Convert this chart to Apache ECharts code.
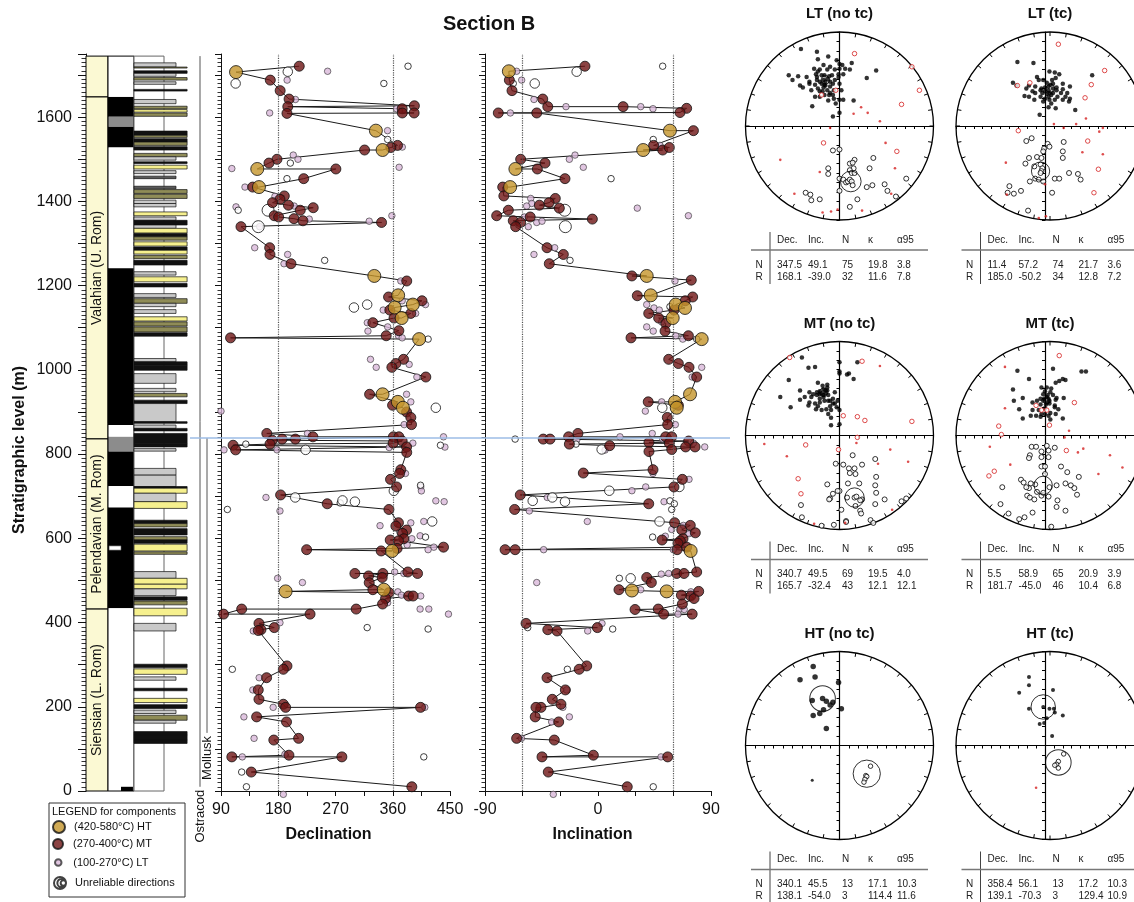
<!DOCTYPE html>
<html><head><meta charset="utf-8">
<script src="https://cdn.jsdelivr.net/npm/echarts@6/dist/echarts.min.js"></script>
<style>html,body{margin:0;padding:0;background:#fff}#c{width:1134px;height:902px}</style>
</head><body><div id="c"></div><script>
const FONT = "'Liberation Sans', Arial, Helvetica, sans-serif";
const LEVEL_MAX = 1750;
const COLUMN_TOP = 1745;
const BOUNDARY_LEVEL = 838;
const DEC_REF = [180, 360];
const INC_REF = [-60, 60];

// ---- Stratigraphy ----
const STAGES = [[1648,1745,''],[836,1648,'Valahian (U. Rom)'],[432,836,'Pelendavian (M. Rom)'],[0,432,'Siensian (L. Rom)']];
const POLARITY = [[1648,1745,'R'],[1601,1648,'N'],[1577,1601,'U'],[1528,1577,'N'],[1241,1528,'R'],[869,1241,'N'],[841,869,'R'],[806,841,'U'],[724,806,'N'],[673,724,'R'],[434,673,'N'],[0,434,'R']];
const POLARITY_EVENTS = [[572,582,'R'],[0,10,'N']];
const LITHOLOGY = [
[1719,1729,'g'],[1717,1719,'o'],[1704,1710,'k'],[1697,1704,'g'],[1688,1694,'o'],[1678,1684,'g'],[1662,1666,'k'],
[1632,1642,'g'],[1620,1626,'o'],[1612,1618,'y'],[1602,1610,'o'],
[1557,1567,'k'],[1552,1557,'o'],[1541,1549,'k'],[1533,1541,'o'],[1522,1530,'k'],[1506,1514,'o'],[1498,1506,'g'],[1490,1494,'k'],[1477,1486,'y'],[1466,1473,'g'],[1454,1460,'d'],
[1430,1436,'d'],[1419,1428,'o'],[1407,1417,'o'],[1395,1403,'g'],[1387,1395,'g'],[1366,1375,'y'],[1355,1363,'g'],[1344,1355,'k'],[1336,1344,'g'],[1325,1336,'y'],[1316,1324,'k'],[1308,1316,'o'],[1294,1304,'y'],[1284,1292,'k'],[1275,1284,'y'],[1264,1272,'o'],[1249,1260,'k'],
[1225,1233,'g'],[1209,1221,'y'],[1197,1205,'k'],[1172,1181,'g'],[1158,1169,'o'],[1150,1158,'g'],[1134,1143,'g'],[1116,1126,'y'],[1104,1114,'o'],[1090,1102,'o'],[1080,1088,'k'],
[1019,1027,'g'],[1011,1019,'k'],[999,1011,'k'],[968,991,'g'],[948,956,'g'],[936,944,'o'],[920,928,'k'],[877,920,'g'],[873,877,'k'],[861,869,'g'],[855,861,'k'],
[825,849,'k'],[817,825,'k'],[807,813,'g'],
[750,766,'g'],[723,750,'g'],[719,723,'k'],[707,719,'y'],[687,707,'g'],[671,687,'y'],
[635,643,'k'],[627,635,'o'],[608,623,'k'],[596,604,'o'],[588,596,'k'],[570,586,'y'],[562,568,'o'],
[505,521,'g'],[491,505,'y'],[480,491,'y'],[464,480,'g'],[453,461,'k'],[442,451,'o'],[416,434,'y'],[380,398,'g'],
[293,301,'k'],[277,290,'y'],[263,271,'g'],[238,244,'k'],[210,220,'y'],[196,205,'k'],[184,192,'g'],[168,180,'o'],[161,168,'g'],[133,141,'k'],[121,133,'k'],[113,121,'k']];
const FOSSILS = [['Ostracod',10,1745],['Mollusk',138,838]];

// ---- Declination [deg, level m] ----
const DEC_HT = [[113.6,1707],[333.5,1568],[344,1522],[147,1477],[149.7,1434],[331,1223],[368.5,1177],[391.6,1155],[363,1148],[374,1123],[401.5,1073],[344,942],[368,924],[376,910],[359,570],[191.6,474],[346,478]];
const DEC_MT = [
[213,1721],[167.5,1688],[183,1663],[197,1643],[195,1625],[374.8,1620],[394,1627],[375,1610],[393.6,1610],[193.7,1609],
[367.5,1533],[357,1528],[315.7,1522],[178,1500],[165.4,1491],[270.6,1477],[220,1454],[139.8,1434],[189.5,1413],[182.7,1405],
[171,1397],[196,1391],[235,1385],[214.6,1379],[173.7,1366],[180.6,1363],[204.7,1359],[218.8,1354],[342.4,1350],[121.4,1340],
[166.5,1290],[167,1274],[200,1252],[382,1211],[353.4,1173],[406,1164],[355.4,1142],[388.4,1134],[362,1123],[328.7,1112],
[369.6,1093],[105,1076],[349.7,1081],[377,1025],[364.9,1015],[358.6,1006],[412,983],[323.6,942],[359.7,916],[381.7,900],
[388.4,887],[389.5,870],[162,849],[234.5,841],[170.6,833],[186,835.6],[207,835.6],[167,823.7],[361,841],[369.6,841],
[374.8,831],[360.6,826],[381.7,817],[382,804],[109,821],[113,810],[372.7,763],[370.7,754],[356.5,740],[366,722],
[183.7,703],[257,682],[354,668.5],[369,637],[364.9,629],[381.7,619.6],[375.4,611.7],[377.4,599],[356,596],[369,594],
[439.8,579],[224.6,573],[341.8,570],[366.9,576],[383.7,520],[399,516.5],[300.5,516.5],[322,510.7],[344.5,516.5],[343.4,507],
[323,494.6],[328.7,478],[354,471],[348.7,457],[344,444],[385,463],[392,463],[302.5,432],[122.5,432],[94,420],
[230,420],[149.7,398],[173.7,388],[152.8,383],[148.6,381],[193.7,297],[188,289],[161.7,269],[148.6,240],[149.7,217.7],
[188,206],[191.6,198.6],[403.7,198.6],[146,176],[193,164],[212,125],[173,121],[196.8,85],[107,81],[280,81],
[137.6,45],[390,10]];
const DEC_LT = [
[194,1688],[257.6,1709],[207,1642],[166.5,1610],[366,1620],[351.8,1568],[375,1529],[203.6,1510],[211,1500],[107,1478],
[370,1481],[127.7,1434],[174.8,1412],[113.6,1387],[205,1389],[228.7,1358],[323,1353],[358.6,1366],[150.8,1340],[143,1290],
[194.8,1274],[189,1252],[372.7,1211],[374.8,1164],[411.5,1155],[345,1142],[396,1134],[320,1112],[352,1102],[321,1092],
[369,1081],[374.8,1076],[325,1025],[385.8,1013],[334,1006],[397.9,983],[381.7,942],[388.4,924],[90,902],[378,870],
[226,849],[439.8,841],[391.6,826],[442,816.6],[94.7,810],[178,810],[354.4,815.6],[380,754],[404,722],[405,712.6],
[160.7,697],[182.7,665],[427.7,689],[440.8,687],[340,630],[388.4,636.7],[408.8,640],[371,615],[390,599],[403,606],
[382.6,584.4],[424.6,579],[415.6,573],[377.4,516.5],[363,520],[179,505],[218,495],[368,473],[373.8,465],[404,463],
[352,447],[403,432],[416.7,432],[447.6,420],[182.7,399.6],[140.7,380],[150,269],[140,240],[172,198.6],[410.4,198.6],
[126,176],[142,125],[190.5,87],[123.5,81],[188,-8]];
const DEC_UNREL_LT = [[384,1721],[346,1680],[352,1547],[199,1491],[193.7,1454],[117,1379],[253,1260],[415.6,1073],[435,821],[129,823.7],[403.7,726],[277.4,684],[100,668.5],[411.5,603],[319.8,388],[415.6,384.6],[107.8,289],[408.8,81],[122.5,45],[130,10]];
const DEC_UNREL_MT = [[195,1708],[113,1680],[299,1148],[319.8,1155],[427.7,910],[223,810],[361.7,712.6],[206.7,697],[281,690],[300.5,687],[422,640]];
const DEC_UNREL_HT = [[164,1379],[148.6,1340]];

// ---- Inclination [deg, level m] ----
const INC_HT = [[-71,1709],[57.3,1568],[36,1522],[-65.8,1477],[-70,1434],[38.8,1223],[42,1177],[61.9,1155],[69.3,1147],[59.5,1123],[82.6,1073],[73.3,942],[61.3,924],[62.7,910],[73.8,570],[27,476],[54.7,474]];
const INC_MT = [
[-10.4,1721],[-70.6,1688],[-68.5,1663],[-44,1643],[-40,1625],[20,1625],[70.6,1621],[65.3,1611],[-79.4,1610],[-48.8,1610],
[76,1568],[44.3,1533],[51.5,1522],[56.8,1528],[-61.6,1500],[-42.2,1491],[-48.3,1477],[-26.3,1454],[-75.9,1434],[-75,1413],
[-34,1407],[-46.7,1391],[-39,1397],[-30.8,1384],[-71.4,1379],[-80.7,1366],[-54,1363],[-4.5,1358],[-67.5,1354],[-61.6,1350],
[-65.6,1340],[-40.6,1290],[-27.6,1274],[-38.8,1252],[27,1223],[74.3,1213],[31.3,1176],[75.4,1173],[69.5,1164],[60.5,1142],
[40.4,1134],[48.3,1123],[54,1110],[53.4,1092],[26.3,1076],[72,1081],[56.3,1025],[64,1015],[72.5,1006],[78.6,983],
[40,924],[64,916],[55.2,887],[55.5,870],[-16,849],[-43.6,835.6],[-38.2,835.6],[-23.4,841],[-22.8,823.7],[9.3,820],
[40.6,827.7],[40.6,806],[53.9,841],[58.7,841],[56.8,826],[58.7,811],[72.2,831],[69.8,817],[77.3,817],[-11.7,755],
[43.8,763],[67.2,740],[60.5,722],[-61.9,703],[40.4,682],[-66.4,668.5],[61,637],[66.7,620],[73.5,630.7],[77.5,613],
[67.7,599],[51,596],[65.6,594],[63.7,588],[-74,573],[-66,573],[63,573],[70.6,579],[78.6,520],[62.7,516.5],
[68.5,516.5],[38.8,507],[42.5,495],[16.7,478],[73.8,463],[66.4,465],[76.5,457],[80.2,474],[67.2,444],[29.5,431],
[48,432],[52.3,420],[75,420],[-57.3,398],[-0.5,388],[-40,383],[-32.6,380],[-9,297],[-15,289],[-40.6,269],
[-26,240],[-36.4,217.7],[-29.5,206],[-45.4,198.6],[-49.4,198.6],[-50,176],[-31.3,164],[-64.8,125],[-34.8,121],[-44.6,81],
[-3.7,85],[55.5,81],[-39.6,45],[23.3,10]];
const INC_LT = [
[-64.8,1709],[-60.8,1688],[-51,1642],[-25.5,1625],[34,1625],[43.8,1620],[-69.8,1610],[49.4,1533],[-18.3,1510],[-22.8,1500],
[-11.7,1481],[-53.6,1407],[-52.8,1395],[-56.8,1389],[31.3,1384],[72,1366],[-58.7,1363],[-48.8,1350],[-44.6,1353],[-55.5,1340],
[-34.5,1290],[-51,1274],[61.3,1211],[38.8,1155],[44.6,1147],[48.8,1142],[50.7,1114],[38.8,1102],[44,1092],[61.9,1081],
[67.5,1073],[82.6,1006],[75,983],[50.7,924],[37.7,902],[61.6,870],[43.2,849],[17.5,841],[-17,833],[5.6,809.5],
[85,817],[51.5,836],[76,826],[43.8,754],[72.5,740],[38,722],[27,713],[-40.4,697],[52.6,687],[-54.7,665],
[-8.5,640],[58.7,621],[68,630.7],[72.5,611],[53.6,605],[-43.3,573],[60,573],[56.3,516.5],[50.4,515],[-48.8,495],
[34,478],[74,473],[64.8,431],[68.7,431],[63.7,420],[3.2,398],[-8.2,380],[-22.8,176],[-36.9,164],[-61,125],
[50.2,81],[-28,198.6],[-25,240],[-35.6,-8]];
const INC_UNREL_LT = [[51.5,1721],[-67.5,1680],[44,1547],[10.4,1454],[-22.3,1260],[78.6,1073],[57.3,1150],[-66,835.6],[-17.5,823.7],[57.3,689],[60.8,682],[58.7,668.5],[43.5,603],[17,505],[-56,388],[11.7,384.6],[-24.4,289],[44,10]];
const INC_UNREL_MT = [[-17,1708],[-50.4,1680],[51.2,910],[2.9,811],[64.8,722],[9,713],[-36.4,697],[-52,689],[-26.3,687],[49,640],[26,505]];
const INC_UNREL_HT = [[-26.5,1379],[-26,1340]];

// ---- Stereonets: equal-area projection coords (radius = 100) ----
const LT_NOTC_NORMAL = [[-41,82],[-24,79],[-23,71],[-12,74],[-3,70],[0,66],[3,65],[6,61],[0,61],[-17,65],[-10,63],[-5,60],[-8,54],[-13,60],[-21,60],[-27,61],[-23,58],[-25,55],[-16,54],[-11,53],[-1,55],[4,55],[-1,52],[-5,49],[-13,50],[-17,49],[-21,47],[-26,44],[-23,40],[-15,43],[-10,42],[-13,38],[-18,37],[-21,31],[-11,33],[-6,29],[0,28],[4,28],[11,60],[-54,54],[-50,49],[-44,53],[-42,43],[-39,41],[-35,52],[-32,45],[-30,38],[-24,49],[15,27],[29,51],[39,59],[-29,21],[-7,10],[0,14],[-17,41],[-19,54],[-10,47],[-15,47],[-7,45],[-16,44],[-19,45],[-24,52],[-12,27],[-4,24],[2,38],[13,67],[0,45],[-6,38],[-10,35],[-7,33],[-16,33],[-21,37],[-26,31],[-32,47]];
const LT_NOTC_REVERSE = [[-7,-26],[0,-25],[11,-40],[16,-36],[14,-39],[15,-45],[11,-47],[13,-50],[16,-50],[0,-56],[4,-57],[7,-60],[9,-59],[11,-57],[13,-59],[14,-63],[0,-69],[-12,-45],[-12,-51],[36,-34],[32,-45],[29,-65],[35,-63],[48,-62],[51,-69],[60,-75],[71,-56],[19,-78],[11,-86],[-36,-71],[-31,-73],[-30,-79],[-21,-78]];
const LT_NOTC_REJ_OPEN = [[16,77],[77,63],[85,38],[66,23],[-4,38],[-19,33],[-17,-18],[61,-27]];
const LT_NOTC_REJ_DOT = [[23,20],[30,14],[43,5],[15,13],[-10,-2],[-63,-36],[49,-18],[59,-45],[-21,-49],[-48,-72],[-18,-92],[-9,-91],[-2,-89],[24,-90],[55,-72]];
const LT_NOTC_MEANS = [[-15,49,4.5],[12,-59,11]];
const LT_TC_NORMAL = [[-31,68],[-13,67],[-36,46],[-32,43],[-21,40],[-9,52],[-7,49],[-2,49],[5,58],[11,57],[16,55],[12,51],[8,49],[2,46],[6,44],[0,41],[-4,40],[-5,38],[4,38],[9,40],[13,41],[20,39],[18,35],[23,31],[14,31],[11,28],[5,28],[0,29],[-5,31],[-11,35],[-14,37],[-18,31],[-12,28],[-2,26],[7,24],[12,19],[4,20],[-6,12],[27,26],[34,17],[53,54],[25,35],[28,42],[20,45],[9,35],[2,34],[-3,35],[4,42],[9,45],[13,38],[4,31],[-11,42],[-18,43],[-23,32],[20,28],[28,29],[7,33],[0,37],[5,35]];
const LT_TC_REVERSE = [[-21,-16],[-15,-13],[3,-19],[-1,-24],[-2,-27],[5,-22],[21,-17],[20,-27],[20,-34],[-9,-33],[-4,-34],[-18,-34],[-22,-40],[-12,-43],[-5,-41],[-3,-45],[-4,-48],[-5,-50],[-11,-56],[-17,-59],[-7,-57],[-2,-59],[11,-56],[16,-56],[27,-50],[37,-51],[40,-57],[8,-71],[-27,-69],[-35,-72],[-42,-71],[-40,-64],[-19,-90]];
const LT_TC_REJ_OPEN = [[15,87],[67,59],[52,44],[45,30],[-17,46],[-31,43],[-30,-5],[48,-16],[60,-46],[55,-71]];
const LT_TC_REJ_DOT = [[46,8],[10,2],[21,-2],[35,2],[65,-2],[61,-6],[42,-28],[65,-30],[-44,-39],[0,-62],[-43,-73],[-7,-98],[1,-96]];
const LT_TC_MEANS = [[6,40,4.5],[-5,-48,9.7]];
const MT_NOTC_NORMAL = [[-40,83],[-33,72],[-26,73],[-54,59],[-63,41],[-52,30],[-42,48],[-42,38],[-37,41],[-30,41],[-26,34],[-21,35],[-23,31],[-19,27],[-25,28],[-32,35],[-28,44],[-21,47],[-17,49],[-13,51],[-18,53],[-13,54],[-21,44],[-17,43],[-12,43],[-10,37],[-7,39],[-5,34],[-10,31],[-14,28],[-9,27],[-3,30],[0,27],[-9,19],[-9,11],[0,12],[0,66],[0,68],[0,78],[8,65],[10,66],[15,60],[19,78],[-23,56],[-13,48],[-16,37],[-33,32],[-5,46],[-21,39],[-32,46],[-24,43],[-15,45],[-19,45],[-24,46],[-17,41],[-12,37],[-7,34],[-2,37],[-12,23],[-15,48]];
const MT_NOTC_REVERSE = [[-4,-30],[4,-31],[14,-21],[10,-35],[16,-35],[11,-40],[17,-41],[24,-31],[38,-25],[39,-44],[38,-53],[39,-61],[21,-51],[9,-51],[0,-59],[-13,-52],[-7,-62],[-10,-67],[-11,-68],[-2,-59],[2,-79],[8,-66],[16,-66],[18,-65],[24,-68],[22,-69],[17,-75],[22,-80],[23,-83],[7,-91],[7,-92],[-6,-95],[-19,-96],[38,-73],[48,-68],[66,-70],[71,-67],[33,-90],[36,-93],[-41,-74],[-40,-87]];
const MT_NOTC_REJ_OPEN = [[-53,83],[24,79],[4,21],[19,20],[27,16],[77,15],[19,-2],[-1,-15],[-36,-10],[-44,-46],[-41,-62]];
const MT_NOTC_REJ_DOT = [[43,74],[18,-8],[-80,-9],[-56,-22],[54,-15],[41,-30],[73,-28],[56,-79],[-27,-94],[6,-93]];
const MT_NOTC_MEANS = [[-17,46,4.5],[16,-66,10.3]];
const MT_TC_NORMAL = [[-31,69],[-18,60],[9,71],[20,60],[23,59],[41,68],[46,68],[16,58],[12,56],[-36,49],[-35,37],[-25,40],[-29,28],[-25,18],[-16,21],[-10,21],[-5,20],[-4,23],[0,23],[4,21],[6,17],[6,24],[12,23],[20,18],[21,40],[12,38],[9,43],[6,46],[0,47],[-2,44],[2,41],[-2,37],[2,35],[5,34],[-5,33],[-7,27],[0,29],[11,30],[-4,51],[2,51],[7,50],[11,32],[15,28],[-14,35],[-9,37],[4,39],[-1,39],[3,43],[5,37],[1,33],[-5,39],[-14,27],[13,40]];
const MT_TC_REVERSE = [[-15,-12],[-10,-12],[2,-11],[-4,-17],[4,-16],[11,-13],[-17,-21],[-18,-24],[-4,-23],[4,-23],[-4,-33],[0,-33],[0,-41],[18,-33],[25,-39],[38,-44],[23,-51],[29,-53],[33,-56],[36,-63],[13,-53],[5,-55],[4,-65],[-4,-64],[-2,-61],[-9,-60],[-11,-52],[-16,-51],[-18,-56],[-21,-55],[-27,-47],[-24,-50],[-20,-64],[-17,-66],[-12,-68],[-14,-82],[-23,-87],[-29,-89],[-48,-55],[-50,-73],[-41,-83],[14,-69],[13,-76],[23,-80],[7,-97]];
const MT_TC_REJ_OPEN = [[16,85],[33,35],[-10,32],[-4,27],[2,27],[5,11],[-52,10],[-49,1],[24,-16],[-57,-38],[-63,-43]];
const MT_TC_REJ_DOT = [[-45,73],[-45,29],[27,5],[22,-2],[43,-14],[37,-18],[-62,-12],[73,-21],[-39,-31],[60,-41],[87,-34]];
const MT_TC_MEANS = [[2,37,3.5],[-2,-53,9.7]];
const HT_NOTC_NORMAL = [[-28,84],[-26,73],[-42,70],[-1,67],[-29,48],[-18,50],[-14,47],[-10,43],[-7,46],[-28,32],[-21,34],[-17,38],[2,39],[-14,18]];
const HT_NOTC_REVERSE = [[33,-22],[28,-32],[29,-33],[27,-36],[26,-39]];
const HT_NOTC_MINOR = [[-29,-37]];
const HT_NOTC_MEANS = [[-18,50,13.6],[29,-30,14.5]];
const HT_TC_NORMAL = [[-18,73],[-18,64],[-29,56],[9,59],[-2,41],[5,39],[10,39],[11,35],[-18,39],[2,29],[-6,23],[-1,24],[20,32],[8,10]];
const HT_TC_REVERSE = [[21,-9],[15,-17],[13,-20],[11,-21],[15,-24]];
const HT_TC_REJ_DOT = [[-10,-45]];
const HT_TC_MEANS = [[-2,41,13],[15,-18,13.6]];

// ---- Fisher statistics tables [pol, Dec, Inc, N, kappa, a95] ----
const LT_NOTC_STATS = [['N',347.5,49.1,75,19.8,3.8],['R',168.1,-39.0,32,11.6,7.8]];
const LT_TC_STATS = [['N',11.4,57.2,74,21.7,3.6],['R',185.0,-50.2,34,12.8,7.2]];
const MT_NOTC_STATS = [['N',340.7,49.5,69,19.5,4.0],['R',165.7,-32.4,43,12.1,12.1]];
const MT_TC_STATS = [['N',5.5,58.9,65,20.9,3.9],['R',181.7,-45.0,46,10.4,6.8]];
const HT_NOTC_STATS = [['N',340.1,45.5,13,17.1,10.3],['R',138.1,-54.0,3,114.4,11.6]];
const HT_TC_STATS = [['N',358.4,56.1,13,17.2,10.3],['R',139.1,-70.3,3,129.4,10.9]];
const TABLE_HEAD = ['', 'Dec.', 'Inc.', 'N', '\u03ba', '\u03b195'];

// ================== build ==================
const NET_CENTERS = [[839.5,126],[1050,126],[839.5,435.5],[1050,435.5],[839.5,745.5],[1050,745.5]];
const NET_R = 94;
const NETS = [
 {title:'LT (no tc)', normal:LT_NOTC_NORMAL, reverse:LT_NOTC_REVERSE, rejOpen:LT_NOTC_REJ_OPEN, rejDot:LT_NOTC_REJ_DOT, minor:[], means:LT_NOTC_MEANS, stats:LT_NOTC_STATS, dot:4.5, ring:5},
 {title:'LT (tc)', normal:LT_TC_NORMAL, reverse:LT_TC_REVERSE, rejOpen:LT_TC_REJ_OPEN, rejDot:LT_TC_REJ_DOT, minor:[], means:LT_TC_MEANS, stats:LT_TC_STATS, dot:4.5, ring:5},
 {title:'MT (no tc)', normal:MT_NOTC_NORMAL, reverse:MT_NOTC_REVERSE, rejOpen:MT_NOTC_REJ_OPEN, rejDot:MT_NOTC_REJ_DOT, minor:[], means:MT_NOTC_MEANS, stats:MT_NOTC_STATS, dot:4.5, ring:5},
 {title:'MT (tc)', normal:MT_TC_NORMAL, reverse:MT_TC_REVERSE, rejOpen:MT_TC_REJ_OPEN, rejDot:MT_TC_REJ_DOT, minor:[], means:MT_TC_MEANS, stats:MT_TC_STATS, dot:4.5, ring:5},
 {title:'HT (no tc)', normal:HT_NOTC_NORMAL, reverse:HT_NOTC_REVERSE, rejOpen:[], rejDot:[], minor:HT_NOTC_MINOR, means:HT_NOTC_MEANS, stats:HT_NOTC_STATS, dot:5.5, ring:4.5},
 {title:'HT (tc)', normal:HT_TC_NORMAL, reverse:HT_TC_REVERSE, rejOpen:[], rejDot:HT_TC_REJ_DOT, minor:[], means:HT_TC_MEANS, stats:HT_TC_STATS, dot:4, ring:4.5}
];

const GRIDS = [
 {left:86, top:54, width:22, height:737},
 {left:108, top:54, width:26, height:737},
 {left:134, top:54, width:60, height:737},
 {left:194, top:54, width:20, height:737},
 {left:221, top:54, width:229, height:737},
 {left:485, top:54, width:226, height:737},
 {left:190, top:54, width:540, height:737}
];
NET_CENTERS.forEach(c => GRIDS.push({left:c[0]-NET_R, top:c[1]-NET_R, width:2*NET_R, height:2*NET_R}));

function levelAxis(gi, main, show) {
  if (!show) return {type:'value', gridIndex:gi, min:0, max:LEVEL_MAX, show:false};
  return {
    type:'value', gridIndex:gi, min:0, max:LEVEL_MAX, interval:100,
    axisLine:{show:true, onZero:false, lineStyle:{color:'#111', width:1}},
    axisTick:{show:true, length: main ? 8 : 6, lineStyle:{color:'#111'}},
    minorTick:{show:true, splitNumber:10, length: main ? 4.5 : 3.5, lineStyle:{color:'#333'}},
    axisLabel: main ? {show:true, fontSize:16, color:'#111', margin:14, fontFamily:FONT,
      formatter: v => (v % 200 === 0 ? String(v) : '')} : {show:false},
    splitLine:{show:false}, minorSplitLine:{show:false}
  };
}
const xAxes = [
 {type:'value', gridIndex:0, min:0, max:1, show:false},
 {type:'value', gridIndex:1, min:0, max:1, show:false},
 {type:'value', gridIndex:2, min:0, max:2, show:false},
 {type:'value', gridIndex:3, min:0, max:20, show:false},
 {type:'value', gridIndex:4, min:90, max:450, interval:45,
  axisLine:{onZero:false, lineStyle:{color:'#111'}}, axisTick:{length:5, lineStyle:{color:'#111'}},
  axisLabel:{fontSize:16, color:'#111', margin:11, fontFamily:FONT, formatter: v => (v % 90 === 0 ? String(v) : '')},
  splitLine:{show:false}, name:'Declination', nameLocation:'middle', nameGap:36,
  nameTextStyle:{fontSize:16, fontWeight:'bold', color:'#111', fontFamily:FONT, padding:[0,14,0,0]}},
 {type:'value', gridIndex:5, min:-90, max:90, interval:30,
  axisLine:{onZero:false, lineStyle:{color:'#111'}}, axisTick:{length:5, lineStyle:{color:'#111'}},
  axisLabel:{fontSize:16, color:'#111', margin:11, fontFamily:FONT, formatter: v => (v % 90 === 0 ? String(v) : '')},
  splitLine:{show:false}, name:'Inclination', nameLocation:'middle', nameGap:36,
  nameTextStyle:{fontSize:16, fontWeight:'bold', color:'#111', fontFamily:FONT, padding:[0,11,0,0]}},
 {type:'value', gridIndex:6, min:0, max:1, show:false}
];
const yAxes = [
 levelAxis(0, true, true), levelAxis(1, false, false), levelAxis(2, false, false), levelAxis(3, false, false),
 levelAxis(4, false, true), levelAxis(5, false, true), levelAxis(6, false, false)
];
function netAxis(gi) {
  return {type:'value', gridIndex:gi, min:-100, max:100, interval:10,
    axisLine:{show:true, onZero:true, lineStyle:{color:'#000', width:1.2}},
    axisTick:{show:true, length:3, lineStyle:{color:'#000', width:1}},
    axisLabel:{show:false}, splitLine:{show:false}};
}
NETS.forEach((n, i) => { xAxes.push(netAxis(7+i)); yAxes.push(netAxis(7+i)); });

const polar = NET_CENTERS.map(c => ({center:[c[0], c[1]], radius:NET_R}));
const angleAxis = NET_CENTERS.map((c, i) => ({polarIndex:i, type:'value', min:0, max:360, interval:10, startAngle:90, clockwise:true,
  axisLine:{show:true, lineStyle:{color:'#000', width:1.3}}, axisTick:{show:true, inside:true, length:4, lineStyle:{color:'#000'}},
  axisLabel:{show:false}, splitLine:{show:false}}));
const radiusAxis = NET_CENTERS.map((c, i) => ({polarIndex:i, type:'value', min:0, max:1, show:false}));

function box(api, x0, x1, lo, hi) {
  const a = api.coord([x0, hi]), b = api.coord([x1, lo]);
  return {x:a[0], y:a[1], width:b[0]-a[0], height:Math.max(1, b[1]-a[1])};
}
const POL_COLOR = {N:'#000', R:'#fff', U:'#8c8c8c'};
const LITH_COLOR = {g:'#c9c9c9', d:'#5a5a5a', y:'#f6f08e', o:'#8f8c57', k:'#111'};
const LITH_WIDTH = {g:1.4, d:1.4, y:1.77, o:1.77, k:1.77};

const series = [];
series.push({type:'custom', xAxisIndex:0, yAxisIndex:0, silent:true, data:STAGES.map(s => [s[0], s[1]]),
  renderItem(params, api) {
    const s = STAGES[params.dataIndex]; const r = box(api, 0, 1, s[0], s[1]);
    return {type:'group', children:[
      {type:'rect', shape:r, style:{fill:'#fbf9d3', stroke:'#000', lineWidth:1}},
      {type:'text', x:r.x + r.width/2, y:r.y + r.height/2, rotation:Math.PI/2,
       style:{text:s[2], fontSize:14, fill:'#111', align:'center', verticalAlign:'middle', fontFamily:FONT}}]};
  }});
series.push({type:'custom', xAxisIndex:1, yAxisIndex:1, silent:true, data:POLARITY.map(s => [s[0], s[1]]),
  renderItem(params, api) {
    const s = POLARITY[params.dataIndex];
    return {type:'rect', shape:box(api, 0, 1, s[0], s[1]), style:{fill:POL_COLOR[s[2]]}};
  }});
series.push({type:'custom', xAxisIndex:1, yAxisIndex:1, silent:true, data:POLARITY_EVENTS.map(s => [s[0], s[1]]),
  renderItem(params, api) {
    const s = POLARITY_EVENTS[params.dataIndex];
    const r = s[2] === 'R' ? box(api, 0.04, 0.5, s[0], s[1]) : box(api, 0.5, 0.96, s[0], s[1]);
    return {type:'rect', shape:r, style:{fill:POL_COLOR[s[2]], stroke: s[2] === 'R' ? '#555' : null, lineWidth:0.6}};
  }});
series.push({type:'custom', xAxisIndex:1, yAxisIndex:1, silent:true, data:[[0, COLUMN_TOP]],
  renderItem(params, api) {
    return {type:'rect', shape:box(api, 0, 1, api.value(0), api.value(1)), style:{fill:null, stroke:'#000', lineWidth:1}};
  }});
series.push({type:'custom', xAxisIndex:2, yAxisIndex:2, silent:true, data:[[0, COLUMN_TOP]],
  renderItem(params, api) {
    return {type:'rect', shape:box(api, 0, 1, api.value(0), api.value(1)), style:{fill:'#fff', stroke:'#666', lineWidth:1}};
  }});
series.push({type:'custom', xAxisIndex:2, yAxisIndex:2, silent:true, data:LITHOLOGY.map(s => [s[0], s[1]]),
  renderItem(params, api) {
    const s = LITHOLOGY[params.dataIndex];
    return {type:'rect', shape:box(api, 0, LITH_WIDTH[s[2]], s[0], s[1]), style:{fill:LITH_COLOR[s[2]], stroke:'#111', lineWidth:0.7}};
  }});
series.push({type:'custom', xAxisIndex:3, yAxisIndex:3, silent:true, data:FOSSILS.map(f => [f[1], f[2]]),
  renderItem(params, api) {
    const f = FOSSILS[params.dataIndex]; const xv = 6 + 7*params.dataIndex;
    const top = api.coord([xv, f[2]]), bot = api.coord([xv, f[1]]);
    return {type:'group', children:[
      {type:'line', shape:{x1:top[0], y1:top[1], x2:bot[0], y2:bot[1]}, style:{stroke:'#555', lineWidth:1}},
      {type:'text', x:bot[0], y:bot[1] + 3, rotation:Math.PI/2,
       style:{text:f[0], fontSize:13, fill:'#111', align:'right', verticalAlign:'middle', fontFamily:FONT}}]};
  }});

const STY = {
  HT:{name:'(420-580\u00b0C) HT', size:13, itemStyle:{color:'#c4952b', borderColor:'#111', borderWidth:1}},
  MT:{name:'(270-400\u00b0C) MT', size:10, itemStyle:{color:'#6e1414', borderColor:'#111', borderWidth:1}},
  LT:{name:'(100-270\u00b0C) LT', size:6.5, itemStyle:{color:'#d9b8d9', borderColor:'#333', borderWidth:0.8}},
  UN:{name:'Unreliable directions', itemStyle:{color:'#fff', borderColor:'#111', borderWidth:1}}
};
function scatter(gi, data, name, size, itemStyle, extra) {
  return Object.assign({type:'scatter', xAxisIndex:gi, yAxisIndex:gi, name:name, data:data, symbol:'circle',
    symbolSize:size, itemStyle:itemStyle, silent:true, clip:false, emphasis:{disabled:true}}, extra || {});
}
function panel(gi, ht, mt, lt, uLT, uMT, uHT, refs) {
  const path = ht.concat(mt).sort((a, b) => b[1] - a[1]);
  series.push({type:'line', xAxisIndex:gi, yAxisIndex:gi, data:path, symbol:'none', silent:true,
    lineStyle:{color:'#1a1a1a', width:1}, z:2});
  series.push(scatter(gi, lt, STY.LT.name, STY.LT.size, STY.LT.itemStyle, {z:3,
    markLine:{silent:true, symbol:['none','none'], label:{show:false}, lineStyle:{type:'dotted', color:'#555', width:1.2},
      data: refs.map(v => ({xAxis:v}))}}));
  series.push(scatter(gi, uLT, STY.UN.name, 6.5, STY.UN.itemStyle, {z:3}));
  series.push(scatter(gi, uMT, STY.UN.name, 9.5, STY.UN.itemStyle, {z:3}));
  series.push(scatter(gi, uHT, STY.UN.name, 12, STY.UN.itemStyle, {z:3}));
  series.push(scatter(gi, mt, STY.MT.name, STY.MT.size, STY.MT.itemStyle, {z:4}));
  series.push(scatter(gi, ht, STY.HT.name, STY.HT.size, STY.HT.itemStyle, {z:5}));
}
panel(4, DEC_HT, DEC_MT, DEC_LT, DEC_UNREL_LT, DEC_UNREL_MT, DEC_UNREL_HT, DEC_REF);
panel(5, INC_HT, INC_MT, INC_LT, INC_UNREL_LT, INC_UNREL_MT, INC_UNREL_HT, INC_REF);
series.push({type:'line', xAxisIndex:6, yAxisIndex:6, data:[], silent:true, z:6,
  markLine:{silent:true, symbol:['none','none'], label:{show:false}, lineStyle:{type:'solid', color:'#9dbde6', width:1.5},
    data:[{yAxis:BOUNDARY_LEVEL}]}});

NETS.forEach((n, i) => {
  const gi = 7 + i;
  series.push(scatter(gi, n.normal, '', n.dot, {color:'#000'}));
  series.push(scatter(gi, n.reverse, '', n.ring, {color:'#fff', borderColor:'#000', borderWidth:1}));
  series.push(scatter(gi, n.rejOpen, '', 4.5, {color:'#fff', borderColor:'#d42020', borderWidth:1}));
  series.push(scatter(gi, n.rejDot, '', 2.6, {color:'#d42020'}));
  series.push(scatter(gi, n.minor, '', 3, {color:'#000'}));
  series.push(scatter(gi, n.means, '', v => 2 * v[2] * NET_R / 100, {color:'rgba(0,0,0,0)', borderColor:'#000', borderWidth:1}));
});

const UNREL_ICON = 'path://M1,10A9,9 0 1 1 19,10A9,9 0 1 1 1,10Z M6,10A6.5,6.5 0 1 1 19,10A6.5,6.5 0 1 1 6,10Z M11,10A4,4 0 1 1 19,10A4,4 0 1 1 11,10Z';
const legendText = {fontSize:11, color:'#111', fontFamily:FONT};
const legend = [
 {data:[{name:STY.HT.name, icon:'circle'}], left:52, top:820, itemWidth:20, itemHeight:12, padding:0, selectedMode:false, textStyle:legendText},
 {data:[{name:STY.MT.name, icon:'circle'}], left:52, top:838, itemWidth:20, itemHeight:10, padding:0, selectedMode:false, textStyle:legendText},
 {data:[{name:STY.LT.name, icon:'circle'}], left:54, top:857, itemWidth:20, itemHeight:6.5, padding:0, selectedMode:false, textStyle:legendText},
 {data:[{name:STY.UN.name, icon:UNREL_ICON}], left:53, top:876, itemWidth:20, itemHeight:12, padding:0, selectedMode:false, textStyle:legendText}
];

const graphics = [];
graphics.push({type:'text', x:489, y:24, style:{text:'Section B', fontSize:20, fontWeight:'bold', fill:'#111', align:'center', verticalAlign:'middle', fontFamily:FONT}});
graphics.push({type:'text', x:20, y:450, rotation:Math.PI/2, style:{text:'Stratigraphic level (m)', fontSize:16, fontWeight:'bold', fill:'#111', align:'center', verticalAlign:'middle', fontFamily:FONT}});
graphics.push({type:'rect', shape:{x:49, y:803, width:136, height:94}, style:{fill:'#fff', stroke:'#333', lineWidth:1}, z:-1});
graphics.push({type:'text', x:52, y:812, style:{text:'LEGEND for components', fontSize:11, fill:'#111', align:'left', verticalAlign:'middle', fontFamily:FONT}});
const COLS = [-81, -62.5, -31.5, 2.5, 28.5, 57.5];
NETS.forEach((n, i) => {
  const cx = NET_CENTERS[i][0], cy = NET_CENTERS[i][1];
  graphics.push({type:'text', x:cx, y:cy - 112, style:{text:n.title, fontSize:15, fontWeight:'bold', fill:'#111', align:'center', verticalAlign:'middle', fontFamily:FONT}});
  graphics.push({type:'line', shape:{x1:cx - 69.5, y1:cy + 106, x2:cx - 69.5, y2:cy + 158}, style:{stroke:'#444', lineWidth:1}});
  graphics.push({type:'line', shape:{x1:cx - 88.5, y1:cy + 124, x2:cx + 88.5, y2:cy + 124}, style:{stroke:'#777', lineWidth:1.3}});
  TABLE_HEAD.forEach((h, k) => {
    if (!h) return;
    graphics.push({type:'text', x:cx + COLS[k], y:cy + 114, style:{text:h, fontSize:10, fill:'#222', align:'left', verticalAlign:'middle', fontFamily:FONT}});
  });
  n.stats.forEach((row, r) => {
    const y = cy + 139 + r * 12;
    const cells = [row[0], row[1].toFixed(1), row[2].toFixed(1), String(row[3]), row[4].toFixed(1), row[5].toFixed(1)];
    cells.forEach((t, k) => {
      graphics.push({type:'text', x:cx + COLS[k] + (k === 0 ? -3 : 0), y:y, style:{text:t, fontSize:10, fill:'#222', align:'left', verticalAlign:'middle', fontFamily:FONT}});
    });
  });
});

const chart = echarts.init(document.getElementById('c'));
chart.setOption({
  animation:false, textStyle:{fontFamily:FONT}, backgroundColor:'#fff',
  grid:GRIDS, xAxis:xAxes, yAxis:yAxes, polar:polar, angleAxis:angleAxis, radiusAxis:radiusAxis,
  legend:legend, series:series, graphic:{elements:graphics}
});
</script></body></html>
